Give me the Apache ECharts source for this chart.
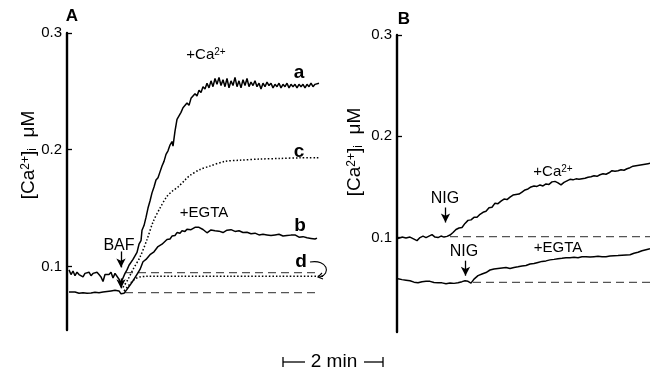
<!DOCTYPE html>
<html><head><meta charset="utf-8">
<script src="https://cdn.jsdelivr.net/npm/echarts@6/dist/echarts.min.js"></script>
<style>html,body{margin:0;padding:0;background:#fff}#c{width:650px;height:372px}</style>
</head><body><div id="c"></div>
<script>
// ---- Tick labels ----
const yTickValues = [0.1, 0.2, 0.3];

// ---- Panel A (time in min, [Ca2+]i in uM) ----
const traceA_a = [
 [0.04,0.097],[0.08,0.093],[0.12,0.096],[0.16,0.092],[0.20,0.095],[0.24,0.093],[0.28,0.094],[0.32,0.091],
 [0.36,0.094],[0.40,0.093],[0.44,0.095],[0.48,0.092],[0.52,0.094],[0.56,0.093],[0.60,0.095],[0.64,0.093],
 [0.68,0.091],[0.72,0.087],[0.76,0.093],[0.80,0.094],[0.84,0.093],[0.88,0.095],[0.92,0.090],[0.96,0.094],
 [1.00,0.093],[1.04,0.089],[1.08,0.086],[1.12,0.090],[1.16,0.094],[1.20,0.097],[1.24,0.101],[1.28,0.102],
 [1.32,0.106],[1.36,0.109],[1.40,0.112],[1.44,0.119],[1.48,0.122],[1.50,0.131],[1.54,0.135],[1.58,0.142],
 [1.62,0.150],[1.66,0.156],[1.70,0.163],[1.74,0.168],[1.78,0.174],[1.82,0.176],[1.86,0.181],[1.90,0.186],
 [1.94,0.190],[1.98,0.196],[2.02,0.199],[2.06,0.204],[2.10,0.207],[2.12,0.203],[2.16,0.216],[2.20,0.226],
 [2.24,0.229],[2.28,0.232],[2.32,0.236],[2.36,0.235],[2.40,0.240],[2.44,0.238],[2.48,0.244],[2.52,0.243],
 [2.56,0.248],[2.60,0.246],[2.64,0.251],[2.68,0.249],[2.72,0.254],[2.76,0.252],[2.80,0.257],[2.84,0.253],
 [2.88,0.259],[2.92,0.254],[2.96,0.261],[3.00,0.256],[3.04,0.262],[3.08,0.255],[3.12,0.260],[3.16,0.254],
 [3.20,0.261],[3.24,0.253],[3.28,0.259],[3.32,0.255],[3.36,0.262],[3.40,0.254],[3.44,0.259],[3.48,0.253],
 [3.52,0.260],[3.56,0.255],[3.60,0.261],[3.64,0.254],[3.68,0.258],[3.72,0.255],[3.76,0.259],[3.80,0.254],
 [3.84,0.257],[3.88,0.252],[3.92,0.257],[3.96,0.254],[4.00,0.258],[4.04,0.255],[4.08,0.257],[4.12,0.253],
 [4.16,0.256],[4.20,0.254],[4.24,0.257],[4.28,0.253],[4.32,0.256],[4.36,0.254],[4.40,0.257],[4.44,0.253],
 [4.48,0.256],[4.52,0.254],[4.56,0.256],[4.60,0.253],[4.64,0.256],[4.68,0.254],[4.72,0.256],[4.76,0.253],
 [4.80,0.256],[4.84,0.254],[4.88,0.257],[4.92,0.254],[4.96,0.256],[5.00,0.255],[5.04,0.257]
];
const traceA_b = [
 [0.04,0.078],[0.08,0.0775],[0.16,0.078],[0.24,0.077],[0.32,0.0775],[0.40,0.077],[0.48,0.0772],[0.56,0.0778],
 [0.64,0.0775],[0.72,0.078],[0.80,0.0785],[0.88,0.079],[0.96,0.0795],[1.00,0.0805],[1.04,0.079],[1.08,0.0765],
 [1.10,0.0752],[1.14,0.077],[1.20,0.0803],[1.30,0.0863],[1.40,0.0932],[1.46,0.0974],[1.50,0.0975],[1.52,0.104],
 [1.58,0.106],[1.66,0.110],[1.74,0.1125],[1.82,0.117],[1.90,0.119],[2.00,0.123],[2.06,0.1235],[2.10,0.126],
 [2.16,0.1265],[2.20,0.129],[2.26,0.1285],[2.30,0.1305],[2.36,0.130],[2.40,0.1318],[2.44,0.1305],[2.48,0.1315],
 [2.52,0.1325],[2.56,0.1335],[2.60,0.1325],[2.64,0.1335],[2.68,0.1322],[2.72,0.1316],[2.76,0.130],[2.80,0.1288],
 [2.84,0.1305],[2.88,0.1312],[2.92,0.1298],[2.96,0.1305],[3.00,0.1315],[3.04,0.1302],[3.08,0.1308],[3.12,0.129],
 [3.16,0.1302],[3.20,0.131],[3.24,0.1298],[3.28,0.1315],[3.32,0.1302],[3.36,0.130],[3.40,0.1292],[3.44,0.1305],
 [3.48,0.1295],[3.52,0.129],[3.56,0.1298],[3.60,0.1292],[3.64,0.1282],[3.68,0.128],[3.72,0.1290],[3.76,0.1285],
 [3.80,0.1278],[3.84,0.127],[3.88,0.1282],[3.92,0.1275],[3.96,0.1265],[4.00,0.127],[4.04,0.1278],[4.08,0.1265],
 [4.12,0.1272],[4.16,0.127],[4.20,0.1262],[4.24,0.1275],[4.28,0.1268],[4.32,0.126],[4.36,0.1272],[4.40,0.1265],
 [4.44,0.1275],[4.48,0.1268],[4.52,0.128],[4.56,0.127],[4.60,0.1262],[4.64,0.125],[4.68,0.1262],[4.72,0.1255],
 [4.76,0.1248],[4.80,0.1245],[4.84,0.1238],[4.88,0.124],[4.92,0.1228],[4.96,0.1235],[5.00,0.1242]
];
const traceA_c = [
 [1.12,0.082],[1.22,0.0889],[1.32,0.0974],[1.46,0.108],[1.60,0.123],[1.72,0.138],[1.86,0.150],[2.00,0.160],
 [2.12,0.165],[2.22,0.168],[2.36,0.174],[2.46,0.178],[2.66,0.183],[2.86,0.186],[3.16,0.190],[3.46,0.191],
 [3.86,0.192],[4.26,0.1925],[4.66,0.193],[5.04,0.193]
];
const traceA_d = [
 [1.14,0.079],[1.22,0.083],[1.30,0.087],[1.38,0.0897],[1.46,0.091],[1.58,0.0915],[2.26,0.0916],[3.26,0.0916],
 [4.26,0.0915],[5.12,0.0915]
];
const baseA_upper = [[1.16,0.0946],[5.02,0.0946]];
const baseA_lower = [[1.16,0.0775],[4.98,0.0775]];

// ---- Panel B ----
const traceB_ca = [
 [0.02,0.099],[0.10,0.1005],[0.18,0.0995],[0.26,0.1005],[0.34,0.0985],[0.40,0.097],[0.46,0.100],[0.52,0.1015],
 [0.58,0.100],[0.64,0.1015],[0.70,0.103],[0.76,0.1005],[0.82,0.100],[0.88,0.1015],[0.94,0.1005],[1.00,0.1012],
 [1.06,0.1025],[1.12,0.105],[1.18,0.108],[1.24,0.1095],[1.30,0.110],[1.36,0.114],[1.42,0.117],[1.48,0.1175],
 [1.54,0.120],[1.60,0.120],[1.66,0.123],[1.72,0.125],[1.78,0.126],[1.84,0.1295],[1.90,0.130],[1.96,0.134],
 [2.02,0.1335],[2.08,0.136],[2.14,0.138],[2.20,0.1375],[2.26,0.140],[2.32,0.142],[2.38,0.1425],[2.44,0.143],
 [2.50,0.145],[2.56,0.147],[2.62,0.148],[2.68,0.150],[2.74,0.151],[2.80,0.1505],[2.86,0.152],[2.92,0.151],
 [2.98,0.153],[3.04,0.1525],[3.10,0.155],[3.16,0.1555],[3.22,0.154],[3.28,0.152],[3.34,0.1545],[3.40,0.156],
 [3.46,0.1575],[3.52,0.157],[3.58,0.158],[3.64,0.1575],[3.70,0.158],[3.76,0.1585],[3.82,0.1595],[3.88,0.160],
 [3.94,0.161],[4.00,0.1605],[4.06,0.162],[4.12,0.163],[4.18,0.1625],[4.24,0.164],[4.30,0.166],[4.36,0.1655],
 [4.42,0.166],[4.48,0.167],[4.54,0.1665],[4.60,0.168],[4.66,0.169],[4.72,0.1705],[4.78,0.171],[4.84,0.1715],
 [4.90,0.172],[4.96,0.1725],[5.02,0.173],[5.08,0.1735]
];
const traceB_egta = [
 [0.02,0.0594],[0.10,0.0585],[0.18,0.058],[0.26,0.0574],[0.34,0.0560],[0.42,0.0554],[0.50,0.0565],[0.58,0.0568],
 [0.66,0.0568],[0.74,0.0556],[0.82,0.0554],[0.90,0.0553],[0.98,0.0545],[1.06,0.0552],[1.14,0.0548],[1.22,0.0554],
 [1.30,0.0565],[1.36,0.0574],[1.42,0.0568],[1.48,0.0550],[1.54,0.059],[1.62,0.0624],[1.70,0.064],[1.78,0.0655],
 [1.86,0.068],[1.94,0.069],[2.02,0.0695],[2.10,0.070],[2.18,0.0705],[2.26,0.0695],[2.34,0.0705],[2.42,0.0712],
 [2.50,0.072],[2.58,0.0725],[2.66,0.074],[2.74,0.0745],[2.82,0.0755],[2.90,0.0765],[2.98,0.077],[3.06,0.078],
 [3.14,0.0785],[3.22,0.0792],[3.30,0.0795],[3.38,0.080],[3.46,0.0802],[3.54,0.0805],[3.62,0.080],[3.70,0.081],
 [3.78,0.0812],[3.86,0.0808],[3.94,0.0812],[4.02,0.0815],[4.10,0.081],[4.18,0.0812],[4.26,0.0818],[4.34,0.082],
 [4.42,0.0822],[4.50,0.0825],[4.58,0.0828],[4.66,0.083],[4.74,0.0845],[4.82,0.0855],[4.90,0.087],[4.98,0.088],
 [5.06,0.089]
];
const baseB_upper = [[1.06,0.101],[5.10,0.101]];
const baseB_lower = [[1.52,0.0558],[5.10,0.0558]];

// arrows (time, from value, to value)
const arrowsA = [[1.08,0.1128,0.0991],[1.08,0.0897,0.0812]];
const arrowsB = [[0.97,0.1297,0.1149],[1.37,0.0772,0.0624]];

const FONT = "'Liberation Sans', Arial, Helvetica, sans-serif";

function yAxisCfg(grid, min) {
  return {
    type: 'value', gridIndex: grid, min: min, max: 0.3,
    axisLine: { show: true, lineStyle: { color: '#000', width: 2.4 } },
    axisTick: { show: true, inside: true, length: 5, lineStyle: { color: '#000', width: 1.3 }, customValues: yTickValues },
    axisLabel: { show: true, customValues: yTickValues, color: '#000', fontSize: 15, fontFamily: FONT, margin: 5,
      formatter: v => v.toFixed(1) },
    splitLine: { show: false }
  };
}
function trace(data, idx, style) {
  return Object.assign({
    type: 'line', xAxisIndex: idx, yAxisIndex: idx, data: data, symbol: 'none', showSymbol: false,
    animation: false, silent: true, clip: true
  }, style);
}
const solid = { lineStyle: { color: '#000', width: 1.5 } };
const dotted = { smooth: 0.3, lineStyle: { color: '#000', width: 1.5, type: [1.5, 2] } };
const dashed = { lineStyle: { color: '#555', width: 1.3, type: [8, 5] } };
function arrowMark(list) {
  return {
    silent: true, symbol: ['none', 'arrow'], symbolSize: [7, 9], animation: false,
    label: { show: false },
    lineStyle: { color: '#000', width: 1.3, type: 'solid' },
    data: list.map(a => [{ coord: [a[0], a[1]] }, { coord: [a[0], a[2]] }])
  };
}

function richFor(size) {
  const s = Math.round(size * 0.64);
  return {
    sup: { fontSize: s, verticalAlign: 'top', fontFamily: FONT, fill: '#000', lineHeight: s + 2 },
    sub: { fontSize: s, verticalAlign: 'bottom', fontFamily: FONT, fill: '#000', lineHeight: s + 2 }
  };
}
function txt(x, y, text, size, bold, extra) {
  return Object.assign({
    type: 'text', x: x, y: y, silent: true,
    style: { text: text, fill: '#000', fontSize: size, fontFamily: FONT, fontWeight: bold ? 'bold' : 'normal',
      align: 'center', verticalAlign: 'middle', rich: richFor(size) }
  }, extra || {});
}
function seg(x1, y1, x2, y2) {
  return { type: 'line', silent: true, shape: { x1, y1, x2, y2 }, style: { stroke: '#000', lineWidth: 1.3 } };
}

const chart = echarts.init(document.getElementById('c'), null, { renderer: 'canvas' });
chart.setOption({
  animation: false,
  backgroundColor: '#fff',
  grid: [
    { left: 67, top: 33, width: 260, height: 297 },
    { left: 397, top: 35, width: 253, height: 297 }
  ],
  xAxis: [
    { type: 'value', gridIndex: 0, min: 0, max: 5.2, show: false },
    { type: 'value', gridIndex: 1, min: 0, max: 5.06, show: false }
  ],
  yAxis: [ yAxisCfg(0, 0.0455), yAxisCfg(1, 0.0068) ],
  series: [
    trace(baseA_upper, 0, dashed),
    trace(baseA_lower, 0, dashed),
    trace(traceA_a, 0, Object.assign({ markLine: arrowMark(arrowsA) }, solid)),
    trace(traceA_b, 0, solid),
    trace(traceA_c, 0, dotted),
    trace(traceA_d, 0, dotted),
    trace(baseB_upper, 1, dashed),
    trace(baseB_lower, 1, dashed),
    trace(traceB_ca, 1, Object.assign({ markLine: arrowMark(arrowsB) }, solid)),
    trace(traceB_egta, 1, solid)
  ],
  graphic: [
    txt(72, 16, 'A', 17, true),
    txt(404, 19, 'B', 17, true),
    txt(29, 155, '[Ca{sup|2+}]{sub|i}  μM', 19, false, { rotation: Math.PI / 2 }),
    txt(355, 152, '[Ca{sup|2+}]{sub|i}  μM', 19, false, { rotation: Math.PI / 2 }),
    txt(206, 55, '+Ca{sup|2+}', 15, false),
    txt(299, 73, 'a', 19, true),
    txt(299, 152, 'c', 19, true),
    txt(204, 213, '+EGTA', 15, false),
    txt(300, 226, 'b', 19, true),
    txt(301, 262, 'd', 19, true),
    txt(119, 246, 'BAF', 16, false),
    txt(445, 199, 'NIG', 16, false),
    txt(553, 172, '+Ca{sup|2+}', 15, false),
    txt(464, 252, 'NIG', 16, false),
    txt(558, 248, '+EGTA', 15, false),
    { type: 'bezierCurve', silent: true,
      shape: { x1: 310, y1: 262, cpx1: 328, cpy1: 259, cpx2: 331, cpy2: 274, x2: 320, y2: 277 },
      style: { stroke: '#000', lineWidth: 1.1, fill: null } },
    { type: 'polyline', silent: true, shape: { points: [[322, 273], [318, 277], [323, 279]] },
      style: { stroke: '#000', lineWidth: 1.1, fill: null } },
    seg(283, 362, 305, 362), seg(283, 357, 283, 367),
    seg(364, 362, 383, 362), seg(383, 357, 383, 367),
    txt(334, 362, '2 min', 19, false)
  ]
});
</script>
</body></html>
